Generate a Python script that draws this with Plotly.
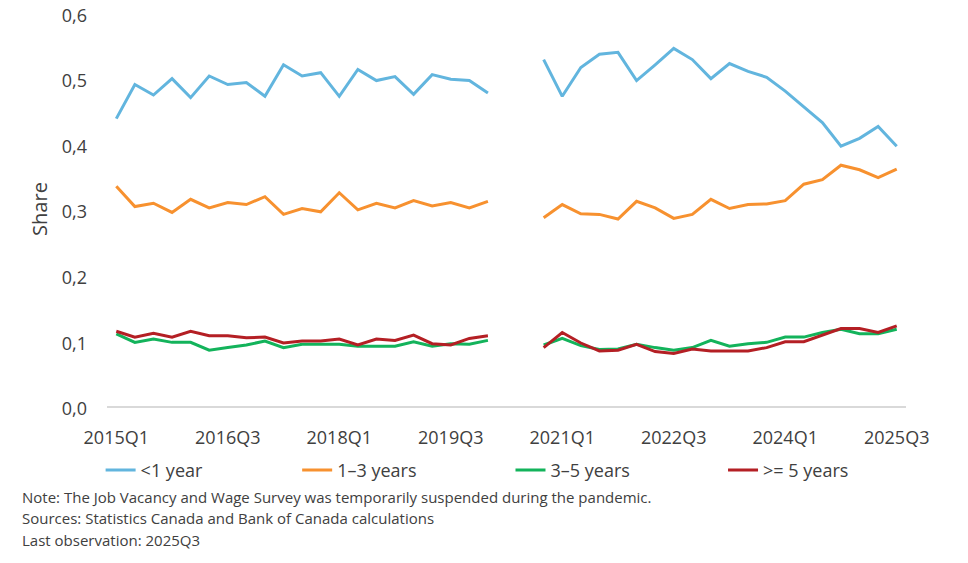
import plotly.graph_objects as go

# quarterly categories, 2015Q1 .. 2025Q3
quarters = [
    '2015Q1', '2015Q2', '2015Q3', '2015Q4', '2016Q1', '2016Q2', '2016Q3', '2016Q4',
    '2017Q1', '2017Q2', '2017Q3', '2017Q4', '2018Q1', '2018Q2', '2018Q3', '2018Q4',
    '2019Q1', '2019Q2', '2019Q3', '2019Q4', '2020Q1', '2020Q2', '2020Q3', '2020Q4',
    '2021Q1', '2021Q2', '2021Q3', '2021Q4', '2022Q1', '2022Q2', '2022Q3', '2022Q4',
    '2023Q1', '2023Q2', '2023Q3', '2023Q4', '2024Q1', '2024Q2', '2024Q3', '2024Q4',
    '2025Q1', '2025Q2', '2025Q3',
]
tick_labels = ['2015Q1', '2016Q3', '2018Q1', '2019Q3', '2021Q1', '2022Q3', '2024Q1', '2025Q3']
y_ticks = [0, 0.1, 0.2, 0.3, 0.4, 0.5, 0.6]

# survey suspended 2020Q2-2020Q3 -> None
under_1 = [
    0.438, 0.490, 0.474, 0.499, 0.470, 0.503, 0.490, 0.493, 0.472, 0.520, 0.503,
    0.508, 0.472, 0.513, 0.496, 0.502, 0.475, 0.505, 0.498, 0.496, 0.477,
    None, None,
    0.528, 0.472, 0.516, 0.536, 0.539, 0.496, 0.520, 0.545, 0.528, 0.499, 0.522,
    0.510, 0.501, 0.480, 0.456, 0.432, 0.396, 0.408, 0.426, 0.396,
]
y1_3 = [
    0.335, 0.304, 0.309, 0.295, 0.315, 0.302, 0.310, 0.307, 0.319, 0.292, 0.301,
    0.296, 0.325, 0.299, 0.309, 0.302, 0.313, 0.305, 0.310, 0.302, 0.312,
    None, None,
    0.287, 0.307, 0.293, 0.292, 0.285, 0.312, 0.302, 0.286, 0.292, 0.315, 0.301,
    0.307, 0.308, 0.313, 0.338, 0.345, 0.367, 0.360, 0.348, 0.361,
]
y3_5 = [
    0.110, 0.097, 0.102, 0.097, 0.097, 0.085, 0.089, 0.093, 0.099, 0.089, 0.094,
    0.094, 0.094, 0.091, 0.091, 0.091, 0.098, 0.091, 0.095, 0.094, 0.100,
    None, None,
    0.093, 0.103, 0.092, 0.086, 0.087, 0.094, 0.089, 0.085, 0.089, 0.100, 0.091,
    0.095, 0.097, 0.105, 0.105, 0.112, 0.117, 0.110, 0.110, 0.117,
]
y5_plus = [
    0.114, 0.105, 0.111, 0.105, 0.114, 0.107, 0.107, 0.104, 0.105, 0.096, 0.099,
    0.099, 0.102, 0.093, 0.102, 0.100, 0.108, 0.095, 0.093, 0.103, 0.107,
    None, None,
    0.089, 0.112, 0.096, 0.084, 0.085, 0.094, 0.083, 0.080, 0.087, 0.084, 0.084,
    0.084, 0.089, 0.098, 0.098, 0.108, 0.118, 0.118, 0.112, 0.122,
]

# name, values, colour, legend id, legend x (paper)
series = [
    ('<1 year', under_1, '#62b5de', 'legend', -0.008),
    ('1–3 years', y1_3, '#f7912f', 'legend2', 0.238),
    ('3–5 years', y3_5, '#13b35b', 'legend3', 0.505),
    ('>= 5 years', y5_plus, '#b41f24', 'legend4', 0.771),
]

TEXT = '#404040'
FONT = 'Open Sans'

fig = go.Figure()
legends = {}
for name, vals, color, leg, lx in series:
    fig.add_trace(go.Scatter(
        x=quarters, y=vals, name=name, mode='lines',
        line=dict(color=color, width=3), connectgaps=False, legend=leg,
    ))
    legends[leg] = dict(
        x=lx, y=-0.163, xanchor='left', yanchor='middle',
        orientation='h', font=dict(family=FONT, size=18, color=TEXT),
        bgcolor='rgba(0,0,0,0)',
    )

# page body has an 8px margin, so the plot box is offset by that much
fig.update_layout(
    width=968, height=563,
    margin=dict(l=99, r=70, t=4, b=165),
    paper_bgcolor='white', plot_bgcolor='white',
    separators=',.',
    font=dict(family=FONT, size=18, color=TEXT),
    showlegend=True,
    **legends,
)

fig.update_xaxes(
    type='category', categoryorder='array', categoryarray=quarters,
    range=[-0.5, len(quarters) - 0.5], automargin=False,
    tickmode='array', tickvals=tick_labels, ticktext=tick_labels,
    showgrid=False, zeroline=False,
    showline=True, linecolor='#d9d9d9', linewidth=2,
    ticks='', ticklabelstandoff=14, ticklabeloverflow='allow',
    tickfont=dict(family=FONT, size=18, color=TEXT),
)
# labels nudged down a little so the top one isn't clipped
fig.update_yaxes(
    range=[0, 0.6005], automargin=False,
    tickmode='array', tickvals=y_ticks,
    tickformat='.1f', showgrid=False, zeroline=False, showline=False,
    ticks='', ticklabelstandoff=19, ticklabeloverflow='allow', ticklabelshift=3,
    tickfont=dict(family=FONT, size=18, color=TEXT),
    title=dict(text='Share', standoff=8, font=dict(family=FONT, size=20, color=TEXT)),
)

notes = [
    'Note: The Job Vacancy and Wage Survey was temporarily suspended during the pandemic.',
    'Sources: Statistics Canada and Bank of Canada calculations',
    'Last observation: 2025Q3',
]
for i, txt in enumerate(notes):
    fig.add_annotation(
        text=txt, xref='paper', yref='paper', x=-0.109, y=-0.231 - i * 0.0545,
        xanchor='left', yanchor='middle', showarrow=False,
        font=dict(family=FONT, size=15, color=TEXT),
    )

fig.write_html('out.html')
